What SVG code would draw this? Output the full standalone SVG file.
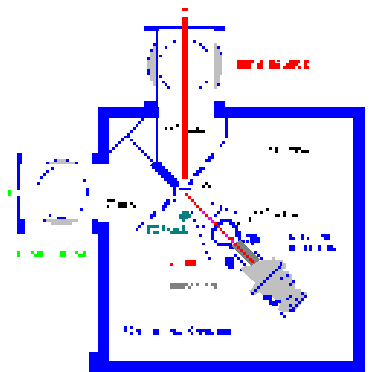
<svg xmlns="http://www.w3.org/2000/svg" width="370" height="372" viewBox="0 0 370 372">
<style>
path{shape-rendering:crispEdges}
.b{fill:#00f}.r{fill:#f00}.m{fill:#f0f}.g{fill:#0f0}.k{fill:#000}.t{fill:#008080}.lg{fill:#c0c0c0}.dg{fill:#808080}
</style>
<rect width="370" height="372" fill="#fff"/>
<g id="walls"><path class="b" d="M98 107H144V101H156V107H159V118H109V153H109V164H92V153H98ZM214 101H225V107H365V361H353V118H214ZM92 219H98V222H109V361H365V372H89V352H98V234H92Z"/></g>
<g id="upper-chamber">
<path class="lg" d="M156 46H153V49H150V57H147V75H150V81H153V86H156ZM214 43H217V49H220V55H222V75H220V83H217V89H214Z"/>
<path class="b" d="M144 26H225V31H214V29H159V31H158V163H156V31H144Z"/>
<path class="b" d="M153 43h3v3h-3zM173 40h3v3h-3zM165 46h2v3h-2zM150 49h3v3h-3zM159 55h3v2h-3zM147 57h3v3h-3zM147 69h3v6h-3zM159 75h3v3h-3zM162 81h3v2h-3zM165 83h2v3h-2zM167 86h3v3h-3zM193 40h3v3h-3zM199 43h3v3h-3zM202 46h3v3h-3zM205 49h3v3h-3zM217 46h3v3h-3zM220 52h2v3h-2zM205 81h3v2h-3zM199 86h3v3h-3zM217 83h3v3h-3z"/>
</g>
<g id="left-chamber">
<path class="lg" d="M57 159h9v3h9v2H49v-2h8zM46 219H78v3H72v3H51v-3H46z"/>
<path class="b" d="M17 153h5v11h-2v26h-3zM17 196h3v23h5v15h-8z"/>
<path class="b" d="M54 159h3v3h-3zM66 159h3v3h-3zM46 162h3v2h-3zM75 162h3v2h-3zM51 167h3v3h-3zM46 170h3v3h-3zM43 173h3v3h-3zM40 176h3v3h-3zM37 182h3v3h-3zM83 179h3v3h-3zM86 188h3v8h-3zM80 208h3v3h-3zM49 214h2v3h-2zM57 217h9v2h-9zM43 219h3v3h-3z"/>
<path class="g" d="M8 190h3v6H8z"/>
</g>
<g id="connectors">
<path class="b" d="M225 118h3v20h-3zM222 141h3v3h-3zM220 144h2v3h-2z"/>
<path class="b" d="M141 118h3v3h-3zM138 121h3v3h-3zM136 124h2v3h-2zM133 127h3v3h-3zM130 130h3v3h-3zM127 133h3v3h-3zM124 136h6v2h-6zM121 138h3v3h-3zM118 141h3v3h-3zM115 144h3v3h-3zM112 147h3v3h-3zM109 150h3v3h-3z"/>
<path class="b" d="M130 139h3v2h-3zM133 142h3v3h-3zM136 145h2v2h-2zM138 147h3v3h-3zM141 150h3v3h-3zM144 153h3v3h-3zM147 156h3v3h-3zM150 159h3v3h-3z"/>
<path class="b" d="M153 162h9v4h3v3h3v3h3v3h3v3h3v3h2v6h-3v9h-3v-9h-3v-3h-3v-3h-3v-3h-3v-3h-3v-3h-3v-3h-3v-3h-3zM179 188h12v2h-12zM190 179h3v6h-5v-3h2zM199 167h6v3h-3v3h-3v3h-6v-3h3v-3h3zM211 153h3v6h-3v3h-6v-3h3v-3h3z"/>
<path class="b" d="M166 199h4v6h-3v3h-2v3h-3v-6h2v-3h2zM173 199h3v3h-3zM153 211h3v6h-3v2h-3v-5h3zM141 222h3v3h-3zM138 225h3v3h-3zM136 228h2v3h-2z"/>
<path class="b" d="M191 211h2v3h-2zM193 219h3v3h-3zM196 225h3v3h-3zM202 225h3v3h-3zM199 234h3v3h-3zM202 243h3v2h-3zM200 234h2v3h-2zM205 251h3v3h-3zM208 257h3v3h-3zM211 202h3v3h-3zM220 205h2v6h-2zM217 211h3v3h-3zM214 214h3v3h-3zM208 217h3v3h-3zM225 208h3v3h-3zM234 211h3v3h-3z"/>
<path class="b" d="M220 219h12v3h-12zM217 222h6v3h-6zM229 222h6v3h-6zM214 225h6v3h-6zM232 225h6v3h-6zM211 228h6v3h-6zM235 228h3v3h-3zM211 231h3v9h-3zM235 231h6v6h-6zM214 240h3v3h-3zM238 237h3v6h-3zM238 240h6v3h-6zM217 243h3v3h-3zM220 243h12v3h-12zM229 246h6v3h-6z"/>
<path class="b" d="M225 257h9v9h-9zM228 266h6v3h-6zM246 234h11v3h-11zM250 237h10v6h-10zM246 240h3v3h-3zM242 240h3v3h-3zM251 243h3v2h-3zM254 251h3v3h-3zM257 254h3v3h-3zM260 257h3v3h-3zM263 260h6v3h-6zM234 254h3v3h-3zM237 257h3v3h-3zM240 260h3v3h-3zM243 263h3v3h-3zM246 266h3v3h-3zM252 266h3v3h-3zM240 269h3v2h-3z"/>
</g>
<g id="beam">
<path class="r" d="M182 8h6v3h-6zM182 17h6v162h-6z"/>
<path class="r" d="M185 193h3v3h-3zM188 196h3v3h-3zM191 199h3v3h-3zM194 202h2v3h-2zM196 205h3v3h-3zM199 208h3v3h-3zM205 214h3v3h-3zM214 222h3v3h-3zM217 225h3v3h-3zM220 228h2v3h-2zM222 231h3v3h-3zM228 237h6v3h-6z"/>
<path class="m" d="M202 211h3v3h-3zM208 217h4v3h-4zM211 220h3v3h-3zM225 234h3v3h-3zM231 240h3v3h-3z"/>
</g>
<g id="detector">
<path class="lg" d="M272 257H275V260H283V263H286V269H283V271H289V274H292V280H295V289H301V292H307V298H304L301 304 298 307 295 310 290 312H283L278 310 280 304 275 300 272 296 262 295 260 292 255 295H252L249 290 252 289 255 283 252 280 246 275 243 272 240 269 245 266H250L252 263 263 260H272Z"/>
<path class="dg" d="M240 240l20 20-9 6-20-20z"/>
<path class="r" d="M234 243h3v3h-3zM237 246h3v3h-3zM240 249h3v3h-3zM243 252h3v3h-3zM246 255h3v3h-3zM249 258h3v3h-3zM251 260h3v3h-3z"/>
<path class="b" d="M251 292h3v3h-3zM254 289h3v3h-3zM257 286h3v3h-3zM260 283h3v3h-3zM263 280h3v3h-3zM266 277h3v3h-3zM269 274h3v3h-3zM272 271h3v3h-3zM275 269h3v2h-3zM278 266h3v3h-3zM280 262h2v4h-2z"/>
<path class="b" d="M280 277h3v3h-3zM286 274h3v3h-3zM292 280h3v3h-3zM289 283h3v3h-3zM263 295h9v6h3v-1h6v3h-3v3h-6v-1h-3v-5h-6zM289 295h3v3h-3zM286 298h3v2h-3zM295 298h3v3h-3zM301 292h3v3h-3zM304 295h3v3h-3zM301 298h3v3h-3zM298 301h3v3h-3zM295 304h3v3h-3zM289 304h3v3h-3zM292 307h3v2h-3zM289 309h6v3h-6zM280 312h3v3h-3zM283 315h3v3h-3z"/>
</g>
<g id="labels">
<path class="r" d="M237 60h14v9h-14zM251 60h3v3h-3zM257 63h6v6h-6zM260 60h3v3h-3zM269 60h6v9h-6zM275 63h5v6h-5zM277 60h3v2h-3zM283 66h12v3h-12zM286 63h12v3h-12zM289 60h11v3h-11zM298 66h3v3h-3zM304 60h5v3h-5zM304 63h3v3h-3zM304 66h5v3h-5z"/>
<path class="k" d="M269 147h3v3h-3zM275 147h3v6h-3zM289 147h12v3h-12zM295 150h3v3h-3zM301 150h8v3h-8z"/>
<path class="k" d="M165 127h2v3h-2zM170 127h3v3h-3zM176 124h3v3h-3zM196 127h3v3h-3zM188 130h17v3h-17z"/>
<path class="k" d="M107 199h8v3h-8zM107 205h2v3h-2zM118 202h9v6h-9zM130 202h3v3h-3zM133 205h3v3h-3z"/>
<path class="k" d="M205 182h3v3h-3zM202 185h3v3h-3zM208 185h3v3h-3z"/>
<path class="k" d="M254 211h3v3h-3zM260 211h3v3h-3zM266 208h3v3h-3zM275 214h5v3h-5zM283 211h3v6h-3zM292 214h6v3h-6zM237 222h3v3h-3zM249 217h2v5h-2z"/>
<path class="g" d="M17 251h3v6h-3zM31 251h3v3h-3zM34 254h9v3h-9zM37 251h6v3h-6zM60 251h6v6h-6zM75 251h3v3h-3zM78 254h8v3h-8zM83 251h3v3h-3z"/>
<path class="t" d="M182 211h7v3h2v4h-3v1h-3v3h-3v-3h-3v-5h3z"/>
<path class="t" d="M147 225h12v3h-9v6h-3zM153 231h6v3h-6zM162 225h3v6h-3zM167 228h3v3h-3zM170 231h18v3h-18zM173 228h6v3h-6zM182 225h3v6h-3z"/>
<path class="b" d="M289 234h3v6h-3zM292 237h3v3h-3zM301 234h3v6h-3zM307 237h2v3h-2zM321 234h9v3h-9zM324 237h6v3h-6zM289 245h6v6h-6zM304 245h3v6h-3zM309 245h3v6h-3zM318 245h3v6h-3zM327 245h6v6h-6zM333 248h3v3h-3z"/>
<path class="r" d="M170 263h3v3h-3zM185 260h11v6h-11z"/>
<path class="dg" d="M170 283h15v6h-15zM185 283h3v3h-3zM188 286h3v3h-3zM191 283h2v3h-2zM196 283h3v3h-3zM205 283h3v3h-3zM211 283h6v3h-6zM214 286h3v3h-3z"/>
<path class="b" d="M124 326h3v6h-3zM130 326h3v3h-3zM130 332h3v3h-3zM136 329h5v3h-5zM138 332h3v3h-3zM153 329h6v6h-6zM170 329h6v3h-6zM173 332h9v3h-9zM188 329h3v3h-3zM191 326h2v3h-2zM191 332h2v3h-2zM196 329h15v3h-15zM199 332h3v3h-3zM205 332h9v3h-9zM217 329h14v6h-14z"/>
</g>
</svg>
